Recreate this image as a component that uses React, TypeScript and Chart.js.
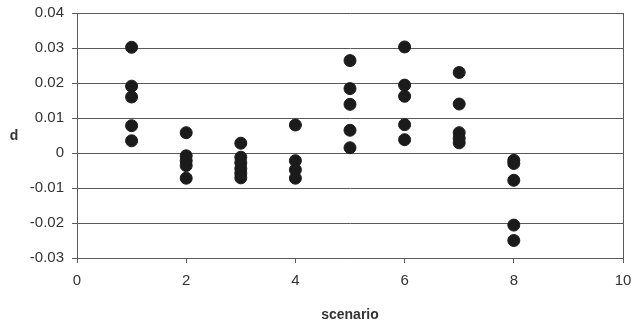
import React, { useEffect, useRef } from "react";
import { Chart, registerables } from "chart.js";

Chart.register(...registerables);

// Measured d values for each scenario
const scenarios = [1, 2, 3, 4, 5, 6, 7, 8];
const dScenario1 = [0.0302, 0.0191, 0.016, 0.0078, 0.0035];
const dScenario2 = [0.0058, -0.0008, -0.0022, -0.0036, -0.0072];
const dScenario3 = [0.0028, -0.0012, -0.0028, -0.0044, -0.0058, -0.0071];
const dScenario4 = [0.008, -0.0022, -0.0048, -0.0072];
const dScenario5 = [0.0264, 0.0184, 0.0139, 0.0065, 0.0015];
const dScenario6 = [0.0303, 0.0194, 0.0162, 0.0081, 0.0038];
const dScenario7 = [0.023, 0.014, 0.0058, 0.0042, 0.0029];
const dScenario8 = [-0.0021, -0.003, -0.0078, -0.0206, -0.025];
const dByScenario = [
  dScenario1, dScenario2, dScenario3, dScenario4,
  dScenario5, dScenario6, dScenario7, dScenario8,
];

const xTicks = [0, 2, 4, 6, 8, 10];
const yTicks = [-0.03, -0.02, -0.01, 0, 0.01, 0.02, 0.03, 0.04];

const fontFamily = "'Liberation Sans', Arial, sans-serif";
const textColor = "#333333";
const gridColor = "#5a5a5a";
const pointColor = "#1b1b1b";

const frameAndLabel = {
  id: "frameAndLabel",
  afterDraw(chart: any) {
    const { ctx, chartArea } = chart;
    ctx.save();
    // right-hand frame line
    ctx.strokeStyle = gridColor;
    ctx.lineWidth = 1;
    ctx.beginPath();
    ctx.moveTo(Math.round(chartArea.right) + 0.5, chartArea.top);
    ctx.lineTo(Math.round(chartArea.right) + 0.5, chartArea.bottom);
    ctx.stroke();
    // upright y-axis label
    ctx.fillStyle = textColor;
    ctx.font = `bold 14px ${fontFamily}`;
    ctx.textAlign = "center";
    ctx.textBaseline = "middle";
    ctx.fillText("d", 14, 136);
    ctx.restore();
  },
};

export default function App() {
  const canvasRef = useRef<HTMLCanvasElement | null>(null);

  useEffect(() => {
    if (!canvasRef.current) return;
    const points: { x: number; y: number }[] = [];
    scenarios.forEach((s, i) => {
      dByScenario[i].forEach((v) => points.push({ x: s, y: v }));
    });

    const chart = new Chart(canvasRef.current, {
      type: "scatter",
      data: {
        datasets: [
          {
            label: "d",
            data: points,
            backgroundColor: pointColor,
            borderColor: pointColor,
            pointRadius: 6,
            pointHoverRadius: 6,
          },
        ],
      },
      options: {
        responsive: false,
        animation: false,
        layout: { padding: { top: 13, right: 11, left: 0, bottom: 0 } },
        plugins: {
          legend: { display: false },
          tooltip: { enabled: false },
        },
        scales: {
          x: {
            type: "linear",
            min: 0,
            max: 10,
            afterBuildTicks(scale: any) {
              scale.ticks = xTicks.map((v) => ({ value: v }));
            },
            afterFit(scale: any) {
              scale.height = 69;
              scale.paddingLeft = 0;
              scale.paddingRight = 0;
            },
            ticks: {
              color: textColor,
              font: { family: fontFamily, size: 15 },
              padding: 9,
            },
            grid: {
              drawOnChartArea: false,
              drawTicks: true,
              tickLength: 5,
              color: gridColor,
            },
            border: { color: gridColor },
            title: {
              display: true,
              text: "scenario",
              color: textColor,
              font: { family: fontFamily, size: 14, weight: "bold" },
              padding: { top: 4, bottom: 3 },
            },
          },
          y: {
            type: "linear",
            min: -0.03,
            max: 0.04,
            afterBuildTicks(scale: any) {
              scale.ticks = yTicks.map((v) => ({ value: v }));
            },
            afterFit(scale: any) {
              scale.width = 77;
              scale.paddingTop = 0;
              scale.paddingBottom = 0;
            },
            ticks: {
              color: textColor,
              font: { family: fontFamily, size: 15 },
              padding: 8,
              callback: (v: any) => {
                const n = Math.round(Number(v) * 100) / 100;
                return n === 0 ? "0" : String(n);
              },
            },
            grid: {
              color: gridColor,
              tickLength: 5,
            },
            border: { color: gridColor },
          },
        },
      },
      plugins: [frameAndLabel],
    });
    return () => chart.destroy();
  }, []);

  return (
    <div style={{ position: "absolute", left: 0, top: 0, width: 634, height: 327, background: "#ffffff" }}>
      <canvas ref={canvasRef} width={634} height={327} />
    </div>
  );
}
